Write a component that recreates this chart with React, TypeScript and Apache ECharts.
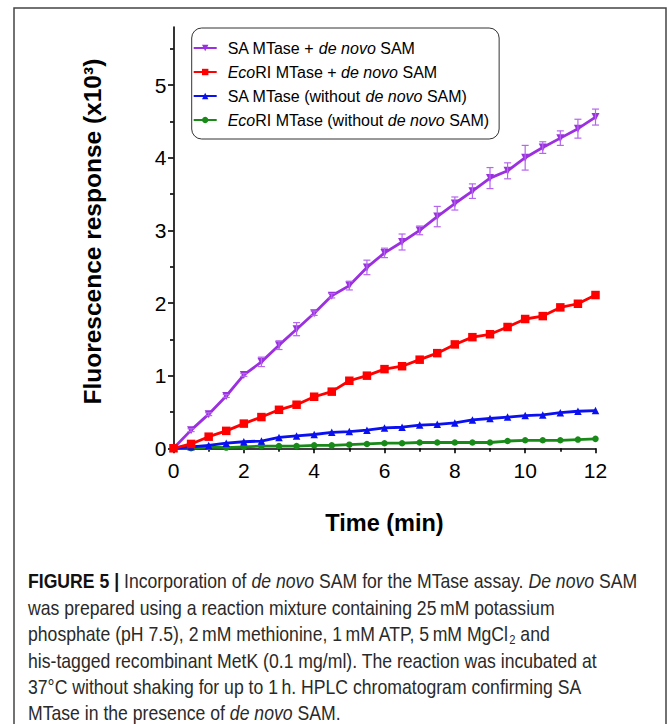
import React, { useEffect, useRef } from "react";
import * as echarts from "echarts";

const times = [0, 0.5, 1, 1.5, 2, 2.5, 3, 3.5, 4, 4.5, 5, 5.5, 6, 6.5, 7, 7.5, 8, 8.5, 9, 9.5, 10, 10.5, 11, 11.5, 12];
const saDeNovo = [0, 0.25, 0.47, 0.72, 1.01, 1.19, 1.42, 1.64, 1.86, 2.1, 2.24, 2.49, 2.69, 2.84, 3.0, 3.19, 3.37, 3.54, 3.72, 3.82, 4.0, 4.14, 4.27, 4.4, 4.56];
const saDeNovoErr = [0, 0.02, 0.02, 0.02, 0.02, 0.065, 0.06, 0.09, 0.03, 0.03, 0.06, 0.1, 0.065, 0.11, 0.06, 0.14, 0.09, 0.1, 0.145, 0.11, 0.17, 0.08, 0.1, 0.13, 0.11];
const ecoDeNovo = [0, 0.06, 0.16, 0.24, 0.34, 0.43, 0.53, 0.6, 0.71, 0.78, 0.93, 1.0, 1.09, 1.13, 1.22, 1.31, 1.43, 1.53, 1.57, 1.67, 1.78, 1.82, 1.94, 1.99, 2.11];
const saWithout = [0, 0.02, 0.04, 0.07, 0.09, 0.1, 0.15, 0.17, 0.19, 0.22, 0.23, 0.25, 0.28, 0.29, 0.32, 0.33, 0.35, 0.39, 0.41, 0.43, 0.45, 0.46, 0.49, 0.51, 0.52];
const ecoWithout = [0, 0, 0.02, 0.01, 0.02, 0.03, 0.03, 0.03, 0.04, 0.04, 0.05, 0.06, 0.07, 0.07, 0.08, 0.08, 0.08, 0.08, 0.08, 0.1, 0.11, 0.11, 0.11, 0.12, 0.13];

const yMajorTicks = [0, 1, 2, 3, 4, 5];
const yMinorTicks = [0.5, 1.5, 2.5, 3.5, 4.5, 5.5];

const seriesNames = [
  "SA MTase + de novo SAM",
  "EcoRI MTase + de novo SAM",
  "SA MTase (without de novo SAM)",
  "EcoRI MTase (without de novo SAM)",
];
const legendLabels = [
  "SA MTase + {i|de novo} SAM",
  "{i|Eco}RI MTase + {i|de novo} SAM",
  "SA MTase (without {i|de novo} SAM)",
  "{i|Eco}RI MTase (without {i|de novo} SAM)",
];

const captionLines = [
  "{b|FIGURE 5 |} Incorporation of {i|de novo} SAM for the MTase assay. {i|De novo} SAM",
  "was prepared using a reaction mixture containing 25\u2009mM potassium",
  "phosphate (pH 7.5), 2\u2009mM methionine, 1\u2009mM ATP, 5\u2009mM MgCl{sub|2} and",
  "his-tagged recombinant MetK (0.1 mg/ml). The reaction was incubated at",
  "37°C without shaking for up to 1\u2009h. HPLC chromatogram confirming SA",
  "MTase in the presence of {i|de novo} SAM.",
];

const FONT = "'Liberation Sans', Arial, sans-serif";
const PURPLE = "#9b30e0";
const RED = "#ff0000";
const BLUE = "#0a10f0";
const GREEN = "#178a17";

export default function App() {
  const ref = useRef<HTMLDivElement>(null);
  useEffect(() => {
    if (!ref.current) return;
    const chart = echarts.init(ref.current, undefined, { renderer: "svg" });
    const pair = (arr: number[]) => times.map((t, i) => [t, arr[i]]);
    const capSize = 20.5;
    const capLineH = 26.4;
    const capStyleBase = { fontSize: capSize, fontFamily: FONT, fill: "#2a2a2a" };

    const option: any = {
      animation: false,
      backgroundColor: "#fff",
      grid: { left: 173.5, right: 73.5, top: 27, bottom: 275.7, containLabel: false },
      legend: {
        orient: "vertical",
        left: 191.7,
        top: 28,
        data: seriesNames,
        itemWidth: 23,
        itemHeight: 8,
        itemGap: 6,
        padding: [11, 10, 10, 1],
        borderColor: "#333",
        borderWidth: 1,
        borderRadius: 10,
        backgroundColor: "#fff",
        formatter: (name: string) => legendLabels[seriesNames.indexOf(name)],
        textStyle: {
          fontSize: 16,
          fontFamily: FONT,
          color: "#000",
          lineHeight: 18,
          padding: [0, 0, 0, 6],
          rich: {
            i: { fontSize: 16, fontFamily: FONT, color: "#000", fontStyle: "italic", lineHeight: 18 },
          },
        },
      },
      xAxis: {
        type: "value",
        min: 0,
        max: 12,
        interval: 2,
        axisLine: { show: true, lineStyle: { color: "#000", width: 1.6 } },
        axisTick: { show: true, length: 5, lineStyle: { color: "#000", width: 1.6 } },
        minorTick: { show: true, splitNumber: 2, length: 3.5, lineStyle: { color: "#000", width: 1.6 } },
        axisLabel: { fontSize: 21, fontFamily: FONT, color: "#000", margin: 12 },
        splitLine: { show: false },
        name: "Time (min)",
        nameLocation: "middle",
        nameGap: 63,
        nameTextStyle: { fontSize: 23.5, fontWeight: "bold", fontFamily: FONT, color: "#000" },
      },
      yAxis: [
        {
          type: "value",
          position: "left",
          min: 0,
          max: 5.8,
          interval: 1,
          axisLine: { show: true, lineStyle: { color: "#000", width: 1.6 } },
          axisTick: { show: true, length: 5.5, customValues: yMajorTicks, lineStyle: { color: "#000", width: 1.6 } },
          axisLabel: { customValues: yMajorTicks, fontSize: 21, fontFamily: FONT, color: "#000", margin: 7 },
          splitLine: { show: false },
          name: "Fluorescence response (x10³)",
          nameLocation: "middle",
          nameGap: 69,
          nameRotate: 90,
          nameTextStyle: {
            fontSize: 24.5,
            fontWeight: "bold",
            fontFamily: FONT,
            color: "#000",
            padding: [0, 0, 0, 12],
          },
        },
        {
          type: "value",
          position: "left",
          offset: 0,
          min: 0,
          max: 5.8,
          interval: 1,
          axisLine: { show: false },
          axisTick: { show: true, length: 3.5, customValues: yMinorTicks, lineStyle: { color: "#000", width: 1.6 } },
          axisLabel: { show: false },
          splitLine: { show: false },
        },
      ],
      series: [
        {
          name: seriesNames[3],
          type: "line",
          data: pair(ecoWithout),
          color: GREEN,
          symbol: "circle",
          symbolSize: 6.5,
          lineStyle: { width: 2.8, color: GREEN },
          itemStyle: { color: GREEN },
          z: 2,
        },
        {
          name: seriesNames[2],
          type: "line",
          data: pair(saWithout),
          color: BLUE,
          symbol: "triangle",
          symbolSize: 7.5,
          lineStyle: { width: 2.8, color: BLUE },
          itemStyle: { color: BLUE },
          z: 3,
        },
        {
          name: seriesNames[0],
          type: "line",
          data: pair(saDeNovo),
          color: PURPLE,
          symbol: "path://M0,0L10,0L5,9Z",
          symbolSize: 8,
          lineStyle: { width: 2.8, color: PURPLE },
          itemStyle: { color: PURPLE },
          z: 4,
        },
        {
          name: "errbars",
          type: "custom",
          data: times.map((t, i) => [t, saDeNovo[i], saDeNovoErr[i]]),
          z: 5,
          silent: true,
          renderItem: (params: any, api: any) => {
            const x = api.value(0);
            const y = api.value(1);
            const e = api.value(2);
            if (!e) return null;
            const top = api.coord([x, y + e]);
            const bot = api.coord([x, y - e]);
            const w = 3.5;
            const st = { stroke: "#b565ee", lineWidth: 1.2 };
            return {
              type: "group",
              children: [
                { type: "line", shape: { x1: top[0], y1: top[1], x2: bot[0], y2: bot[1] }, style: st },
                { type: "line", shape: { x1: top[0] - w, y1: top[1], x2: top[0] + w, y2: top[1] }, style: st },
                { type: "line", shape: { x1: bot[0] - w, y1: bot[1], x2: bot[0] + w, y2: bot[1] }, style: st },
              ],
            };
          },
        },
        {
          name: seriesNames[1],
          type: "line",
          data: pair(ecoDeNovo),
          color: RED,
          symbol: "rect",
          symbolSize: 8.5,
          lineStyle: { width: 2.8, color: RED },
          itemStyle: { color: RED },
          z: 6,
        },
      ],
      graphic: [
        {
          type: "rect",
          shape: { x: 14, y: 8, width: 652, height: 740 },
          style: { fill: "none", stroke: "#444", lineWidth: 1.5 },
          silent: true,
        },
        ...captionLines.map((line, i) => ({
          type: "text",
          x: 28,
          y: 581.5 + i * capLineH,
          scaleX: 0.86,
          silent: true,
          style: {
            text: line,
            ...capStyleBase,
            verticalAlign: "middle",
            align: "left",
            rich: {
              b: { ...capStyleBase, fontWeight: "bold", fill: "#111" },
              i: { ...capStyleBase, fontStyle: "italic" },
              sub: { ...capStyleBase, fontSize: 13, verticalAlign: "bottom", lineHeight: 23 },
            },
          },
        })),
      ],
    };
    chart.setOption(option);
    return () => chart.dispose();
  }, []);
  return (
    <div
      ref={ref}
      style={{ position: "fixed", left: 0, top: 0, width: 669, height: 724, background: "#fff" }}
    />
  );
}
